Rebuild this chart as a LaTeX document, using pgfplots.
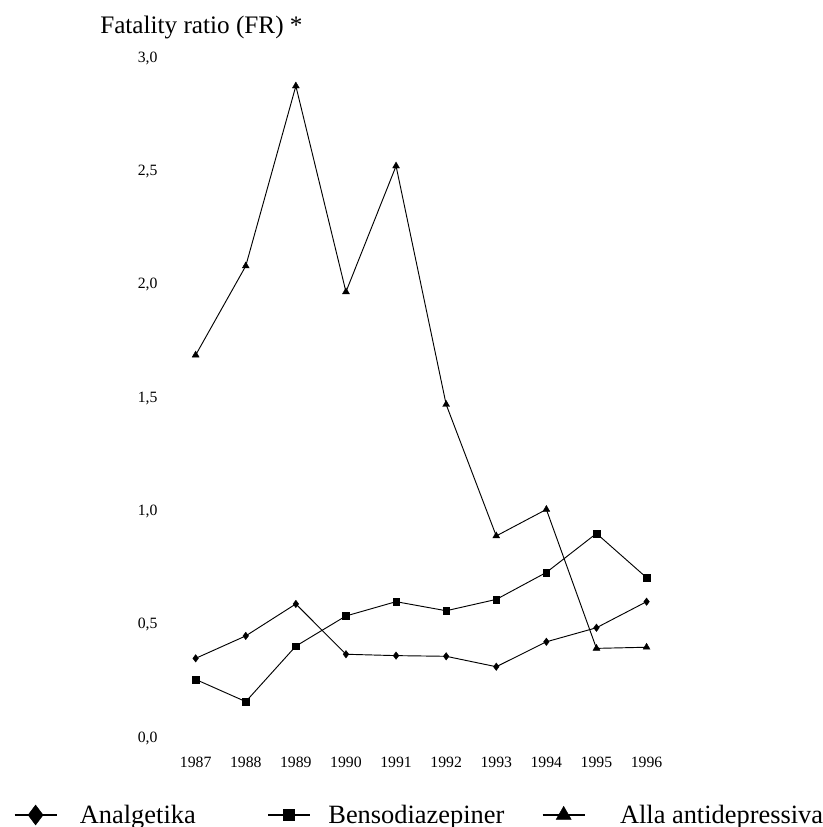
\documentclass[border=0pt]{standalone}
\usepackage{fontspec}
\setmainfont{Liberation Serif}
\usepackage{pgfplots}
\pgfplotsset{compat=1.18}
\begin{document}
\begin{tikzpicture}
\useasboundingbox (-124.2pt,-67.5pt) rectangle (493.05pt,552.75pt);
\begin{axis}[
  at={(0pt,0pt)}, anchor=south west,
  width=375.75pt, height=510pt, scale only axis,
  xmin=1986.4, xmax=1996.4, ymin=0, ymax=3,
  axis line style={draw=none},
  major tick length=0pt,
  xtick={1987,1988,1989,1990,1991,1992,1993,1994,1995,1996},
  xticklabels={1987,1988,1989,1990,1991,1992,1993,1994,1995,1996},
  ytick={0,0.5,1,1.5,2,2.5,3},
  yticklabels={{0,0},{0,5},{1,0},{1,5},{2,0},{2,5},{3,0}},
  tick label style={font=\fontsize{11.8}{13}\selectfont},
  yticklabel style={anchor=base east, xshift=-2.6pt, yshift=-3.9pt},
  xticklabel style={anchor=center, yshift=-18.75pt},
  clip=false,
  legend image code/.code={\draw[mark repeat=2,mark phase=2,#1] plot coordinates {(0pt,0pt) (15.75pt,0pt) (31.5pt,0pt)};},
  legend style={draw=none, fill=none, at={(axis description cs:-0.3046,-0.1147)}, anchor=west,
    font=\fontsize{19.8}{23}\selectfont, inner sep=0pt, nodes={inner sep=0pt},
    /tikz/column 1/.style={column sep=16.5pt},
    /tikz/column 2/.style={column sep=53.25pt},
    /tikz/column 3/.style={column sep=12.75pt},
    /tikz/column 4/.style={column sep=27.75pt},
    /tikz/column 5/.style={column sep=25.5pt}},
  legend columns=3,
]
\addplot[black, line width=0.7pt, mark=diamond*, mark size=2.8pt, mark options={line width=0.3pt}, forget plot] coordinates {
(1987,0.347) (1988,0.446) (1989,0.587) (1990,0.365) (1991,0.359) (1992,0.356) (1993,0.310) (1994,0.420) (1995,0.482) (1996,0.597)};
\addplot[black, line width=0.7pt, mark=square*, mark size=2.5pt, mark options={line width=0.3pt}, forget plot] coordinates {
(1987,0.254) (1988,0.156) (1989,0.401) (1990,0.534) (1991,0.597) (1992,0.557) (1993,0.607) (1994,0.726) (1995,0.898) (1996,0.703)};
\addplot[black, line width=0.7pt, mark=triangle*, mark size=3pt, mark options={line width=0.3pt}, forget plot] coordinates {
(1987,1.685) (1988,2.078) (1989,2.872) (1990,1.964) (1991,2.519) (1992,1.467) (1993,0.887) (1994,1.004) (1995,0.391) (1996,0.396)};
\addlegendimage{black, line width=2pt, mark=diamond*, mark size=7.5pt, mark options={line width=0.3pt}}
\addlegendentry{Analgetika}
\addlegendimage{black, line width=2pt, mark=square*, mark size=4.1pt, mark options={line width=0.3pt}}
\addlegendentry{Bensodiazepiner}
\addlegendimage{black, line width=2pt, mark=triangle*, mark size=6.5pt, mark options={line width=0.3pt}}
\addlegendentry{Alla antidepressiva}
\node[anchor=base west, inner sep=0pt, font=\fontsize{18.9}{22}\selectfont] at ([xshift=-49.2pt, yshift=17.25pt]rel axis cs:0,1) {Fatality ratio (FR) *};
\end{axis}
\end{tikzpicture}
\end{document}
